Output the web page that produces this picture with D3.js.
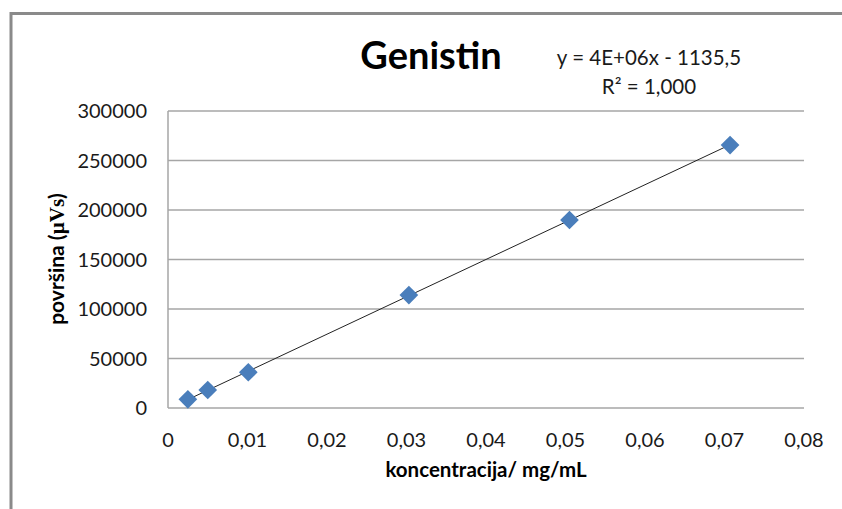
<!DOCTYPE html>
<html><head><meta charset="utf-8">
<script src="https://cdnjs.cloudflare.com/ajax/libs/d3/7.8.5/d3.min.js"></script>
<style>body{margin:0;background:#fff}svg{display:block}</style>
</head><body>
<svg id="c" width="842" height="509"></svg>
<script>
const concentrations = [0.0025, 0.005, 0.0101, 0.0303, 0.0505, 0.0707];
const areas = [8800, 18200, 36100, 114100, 189900, 265600];
const xTicks = [0, 0.01, 0.02, 0.03, 0.04, 0.05, 0.06, 0.07, 0.08];
const yTicks = [0, 50000, 100000, 150000, 200000, 250000, 300000];
const titleText = "Genistin";
const eqText = "y = 4E+06x - 1135,5";
const r2Text = "R² = 1,000";
const xTitle = "koncentracija/ mg/mL";

const svg = d3.select("#c");
const font = "Lato, 'Open Sans', sans-serif";
const x = d3.scaleLinear().domain([0, 0.08]).range([168, 804]);
const y = d3.scaleLinear().domain([0, 300000]).range([408, 111]);

// outer chart border (top and left)
svg.append("path").attr("d", "M11,842 V13.5 H842").attr("fill", "none")
  .attr("stroke", "#8a8a8a").attr("stroke-width", 3);

// gridlines
svg.append("g").selectAll("line").data(yTicks.filter(d => d > 0)).join("line")
  .attr("x1", x(0)).attr("x2", x(0.08)).attr("y1", d => y(d)).attr("y2", d => y(d))
  .attr("stroke", "#a6a6a6").attr("stroke-width", 1.5);

// axes lines
svg.append("line").attr("x1", x(0)).attr("x2", x(0)).attr("y1", y(0)).attr("y2", y(300000))
  .attr("stroke", "#a6a6a6").attr("stroke-width", 1.5);
svg.append("line").attr("x1", x(0)).attr("x2", x(0.08)).attr("y1", y(0)).attr("y2", y(0))
  .attr("stroke", "#a6a6a6").attr("stroke-width", 1.5);

const fmtX = d => d === 0 ? "0" : d.toFixed(2).replace(".", ",");
svg.append("g").selectAll("text").data(xTicks).join("text")
  .attr("x", d => x(d)).attr("y", 447).attr("text-anchor", "middle")
  .attr("font-family", font).attr("font-size", 20).attr("fill", "#1a1a1a")
  .text(fmtX);
svg.append("g").selectAll("text").data(yTicks).join("text")
  .attr("x", 147).attr("y", d => y(d)).attr("dy", "0.36em").attr("text-anchor", "end")
  .attr("font-family", font).attr("font-size", 20).attr("fill", "#1a1a1a")
  .text(d => String(d));

// trendline (least squares from data)
const n = concentrations.length;
const mx = d3.mean(concentrations), my = d3.mean(areas);
let sxy = 0, sxx = 0;
for (let i = 0; i < n; i++) { sxy += (concentrations[i]-mx)*(areas[i]-my); sxx += (concentrations[i]-mx)**2; }
const slope = sxy / sxx, icpt = my - slope * mx;
const x0 = d3.min(concentrations), x1 = d3.max(concentrations);
svg.append("line").attr("x1", x(x0)).attr("y1", y(slope*x0+icpt))
  .attr("x2", x(x1)).attr("y2", y(slope*x1+icpt))
  .attr("stroke", "#222").attr("stroke-width", 1);

// markers
const sym = d3.symbol().type(d3.symbolSquare).size(175);
svg.append("g").selectAll("path").data(concentrations.map((c, i) => [c, areas[i]])).join("path")
  .attr("d", sym).attr("transform", d => `translate(${x(d[0])},${y(d[1])}) rotate(45)`)
  .attr("fill", "#4a7ebb");

// titles
svg.append("text").attr("x", 431).attr("y", 69).attr("text-anchor", "middle")
  .attr("font-family", font).attr("font-weight", "bold").attr("font-size", 38).attr("fill", "#000")
  .text(titleText);
svg.append("text").attr("x", 649).attr("y", 65).attr("text-anchor", "middle")
  .attr("font-family", font).attr("font-size", 20.5).attr("fill", "#1a1a1a").text(eqText);
svg.append("text").attr("x", 649).attr("y", 94).attr("text-anchor", "middle")
  .attr("font-family", font).attr("font-size", 20.5).attr("fill", "#1a1a1a").text(r2Text);
svg.append("text").attr("x", 486).attr("y", 477).attr("text-anchor", "middle")
  .attr("font-family", font).attr("font-weight", "bold").attr("font-size", 20.5).attr("fill", "#000")
  .text(xTitle);
const yt = svg.append("text").attr("transform", "translate(64,259) rotate(-90)").attr("text-anchor", "middle")
  .attr("font-family", font).attr("font-weight", "bold").attr("font-size", 21).attr("fill", "#000");
yt.append("tspan").text("površina (");
yt.append("tspan").attr("font-family", "'Liberation Serif', serif").text("µVs");
yt.append("tspan").text(")");
</script>
</body></html>
